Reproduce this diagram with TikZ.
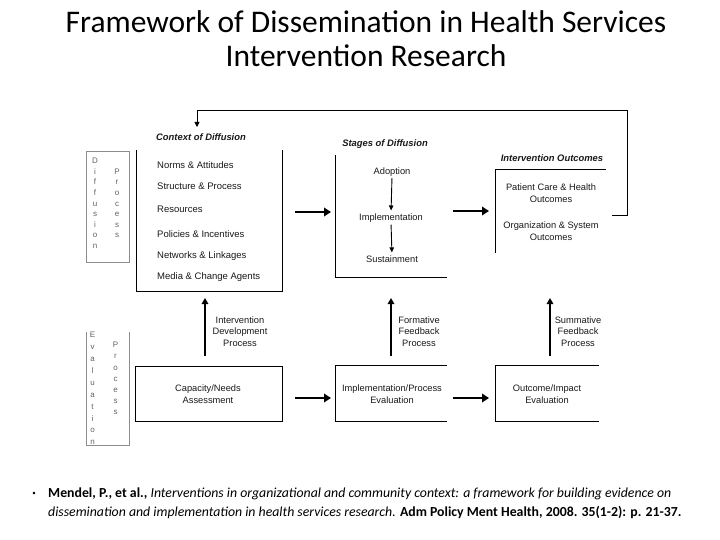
\documentclass[tikz,border=0pt]{standalone}
\usepackage{fontspec}
\setmainfont{Carlito}
\newfontfamily\arialf{Liberation Sans}
\usetikzlibrary{arrows.meta}
\definecolor{txt}{gray}{0.1}
\definecolor{graybox}{gray}{0.55}
\begin{document}
\begin{tikzpicture}[x=1pt,y=-1pt,
  lbl/.style={font=\arialf\fontsize{9.3}{11.8}\selectfont, text=txt, align=center, inner sep=0pt},
  head/.style={font=\arialf\bfseries\itshape\fontsize{9.4}{11}\selectfont, text=txt, inner sep=0pt},
  ctxitem/.style={font=\arialf\fontsize{9.5}{11}\selectfont, text=txt, inner sep=0pt, anchor=base west},
  vlet/.style={font=\arialf\fontsize{8}{10.6}\selectfont, text=graybox!70!black, align=center, inner sep=0pt, anchor=north},
  boxline/.style={line width=0.9pt, black},
  graysides/.style={line width=0.8pt, graybox},
  bigarrow/.style={line width=2.6pt, -{Triangle[length=7pt,width=8.5pt]}},
  uparrow/.style={line width=2.2pt, -{Triangle[length=6pt,width=6.5pt]}},
  smallarrow/.style={line width=0.9pt, -{Triangle[length=5pt,width=4.5pt]}},
  loopline/.style={line width=0.9pt, -{Triangle[length=5pt,width=5pt]}},
]
\useasboundingbox (0,0) rectangle (720,540);

% Title
\node[font=\fontsize{31.5}{34}\selectfont, anchor=base] (title1) at (366,33) {Framework of Dissemination in Health Services};
\node[font=\fontsize{31.5}{34}\selectfont, anchor=base] (title2) at (366,67) {Intervention Research};

% Region frames (invisible nodes)
\node[inner sep=0pt, minimum width=145pt, minimum height=141pt] (ctx) at (209.5,220.5) {};
\node[inner sep=0pt, minimum width=111pt, minimum height=122pt] (stg) at (391.5,216) {};
\node[inner sep=0pt, minimum width=110pt, minimum height=83pt] (out) at (551,211.5) {};
\node[inner sep=0pt, minimum width=42pt, minimum height=110pt] (dif) at (108,207) {};
\node[inner sep=0pt, minimum width=42pt, minimum height=113pt] (evp) at (108,388.5) {};
\node[inner sep=0pt, minimum width=146pt, minimum height=54pt] (cap) at (209,394) {};
\node[inner sep=0pt, minimum width=111pt, minimum height=55pt] (ipe) at (391.5,393.5) {};
\node[inner sep=0pt, minimum width=103pt, minimum height=55pt] (oie) at (547.5,393.5) {};

% visible sides
\draw[boxline] (ctx.north west) -- (ctx.south west) -- (ctx.south east) -- (ctx.north east);
\draw[boxline] (stg.north west) -- (stg.south west) -- (stg.south east);
\draw[boxline] (out.south west) -- (out.north west) -- (out.north east);
\draw[boxline] (cap.north west) rectangle (cap.south east);
\draw[boxline] (ipe.north east) -- (ipe.north west) -- (ipe.south west) -- (ipe.south east);
\draw[boxline] (oie.north east) -- (oie.north west) -- (oie.south west) -- (oie.south east);
\draw[graysides] (dif.north west) rectangle (dif.south east);
\draw[graysides] (evp.north west) -- (evp.south west) -- (evp.south east) -- (evp.north east);

% headings
\node[head] (ctxlabel) at (201,137) {Context of Diffusion};
\node[head] (stglabel) at (385,144) {Stages of Diffusion};
\node[head] (outlabel) at (552,158) {Intervention Outcomes};

% context items
\node[ctxitem] (i1) at (157,169) {Norms \& Attitudes};
\node[ctxitem] (i2) at (157,189.5) {Structure \& Process};
\node[ctxitem] (i3) at (157,212) {Resources};
\node[ctxitem] (i4) at (157,237) {Policies \& Incentives};
\node[ctxitem] (i5) at (157,258.5) {Networks \& Linkages};
\node[ctxitem] (i6) at (157,279) {Media \& Change Agents};

% vertical letters
\node[vlet] (difl) at (95,158) {D\\i\\f\\f\\u\\s\\i\\o\\n};
\node[vlet] (difp) at (117,168.5) {P\\r\\o\\c\\e\\s\\s};
\node[vlet, font=\arialf\fontsize{8}{11.9}\selectfont] (evl) at (92.5,332) {E\\v\\a\\l\\u\\a\\t\\i\\o\\n};
\node[vlet, font=\arialf\fontsize{8}{11.2}\selectfont] (evpp) at (115.5,342) {P\\r\\o\\c\\e\\s\\s};

% stages
\node[lbl] (adop) at (392,172) {Adoption};
\node[lbl] (impl) at (391,218) {Implementation};
\node[lbl] (sust) at (392,259) {Sustainment};
\draw[smallarrow, shorten <=1.5pt, shorten >=3pt] (adop.south) -- (impl.north);
\draw[smallarrow, shorten <=2pt, shorten >=3pt] (impl.south) -- (sust.north);

% outcomes
\node[lbl] (pc) at (551,193) {Patient Care \& Health\\Outcomes};
\node[lbl] (org) at (551,231) {Organization \& System\\Outcomes};

% bottom row texts
\node[lbl] (captx) at (208,394) {Capacity/Needs\\Assessment};
\node[lbl] (ipetx) at (392,394) {Implementation/Process\\Evaluation};
\node[lbl] (oietx) at (547,394) {Outcome/Impact\\Evaluation};

\node[lbl, font=\arialf\fontsize{9.3}{11.5}\selectfont] (idp) at (240,331.5) {Intervention\\Development\\Process};
\node[lbl, font=\arialf\fontsize{9.3}{11.5}\selectfont] (ffp) at (419,331.5) {Formative\\Feedback\\Process};
\node[lbl, font=\arialf\fontsize{9.3}{11.5}\selectfont] (sfp) at (578,331.5) {Summative\\Feedback\\Process};

% horizontal big arrows
\coordinate (a1s) at (295,212); \coordinate (a1e) at (331,212);
\coordinate (a2s) at (453,211); \coordinate (a2e) at (489,211);
\coordinate (a3s) at (295,398); \coordinate (a3e) at (331,398);
\coordinate (a4s) at (453,398); \coordinate (a4e) at (489,398);
\draw[bigarrow] (a1s) -- (a1e);
\draw[bigarrow] (a2s) -- (a2e);
\draw[bigarrow] (a3s) -- (a3e);
\draw[bigarrow] (a4s) -- (a4e);

% up arrows
\coordinate (u1s) at (205,356); \coordinate (u1e) at (205,298);
\coordinate (u2s) at (391,356); \coordinate (u2e) at (391,298);
\coordinate (u3s) at (550,356); \coordinate (u3e) at (550,298);
\draw[uparrow] (u1s) -- (u1e);
\draw[uparrow] (u2s) -- (u2e);
\draw[uparrow] (u3s) -- (u3e);

% feedback loop
\coordinate (fb0) at (612,215);
\coordinate (fb1) at (627,215);
\coordinate (fb2) at (627,110);
\coordinate (fb3) at (197,110);
\coordinate (fbtip) at (197,127);
\draw[loopline] (fb0) -- (fb1) -- (fb2) -- (fb3) -- (fbtip);

% citation
\node[font=\fontsize{7}{8}\selectfont, anchor=base] (bul) at (34,495) {•};
\node[font=\fontsize{13.8}{19}\selectfont, anchor=base west, inner sep=0pt] (cit1) at (48,497) {\textbf{Mendel, P., et al.,} \textit{Interventions in organizational and community context: a framework for building evidence on}};
\node[font=\fontsize{13.8}{19}\selectfont, anchor=base west, inner sep=0pt] (cit2) at (48,516) {\textit{dissemination and implementation in health services research.} \textbf{Adm Policy Ment Health, 2008. 35(1-2): p. 21-37.}};
\end{tikzpicture}
\end{document}
